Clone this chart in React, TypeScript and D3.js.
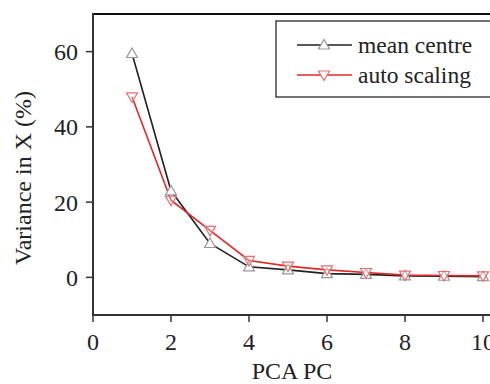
import React from "react";
import * as d3 from "d3";

const pcs = [1, 2, 3, 4, 5, 6, 7, 8, 9, 10];
const meanCentre = [59.5, 23, 9, 2.8, 2, 1, 0.8, 0.4, 0.3, 0.2];
const autoScaling = [48, 20.5, 12.5, 4.5, 3, 2, 1.3, 0.6, 0.5, 0.4];
const xTicks = [0, 2, 4, 6, 8, 10];
const yTicks = [0, 20, 40, 60];

const W = 490, H = 384;
const left = 93, top = 14, bottom = 315;

export default function App() {
  const x = d3.scaleLinear().domain([0, 10]).range([left, left + 390]);
  const y = d3.scaleLinear().domain([-10, 70]).range([bottom, top]);
  const line = d3.line<number>().x((_, i) => x(pcs[i])).y((d) => y(d));
  const font = "'Liberation Serif', 'Times New Roman', serif";
  const up = (cx: number, cy: number) => `M${cx},${cy - 5.5}L${cx + 5.5},${cy + 4}L${cx - 5.5},${cy + 4}Z`;
  const down = (cx: number, cy: number) => `M${cx},${cy + 5.5}L${cx + 5.5},${cy - 4}L${cx - 5.5},${cy - 4}Z`;
  return (
    <svg width={W} height={H} style={{ position: "absolute", left: 0, top: 0, background: "#fff" }}>
      <rect width={W} height={H} fill="#fff" />
      {/* frame */}
      <line x1={left} x2={W} y1={top} y2={top} stroke="#111" strokeWidth={2} />
      <line x1={left} x2={left} y1={top - 1} y2={bottom} stroke="#333" strokeWidth={2} />
      <line x1={left - 1} x2={W} y1={bottom} y2={bottom} stroke="#333" strokeWidth={2} />
      {yTicks.map((t) => (
        <g key={"y" + t}>
          <line x1={left - 7} x2={left} y1={y(t)} y2={y(t)} stroke="#333" strokeWidth={1.5} />
          <text x={78} y={y(t)} dy="0.35em" textAnchor="end" fontFamily={font} fontSize={24} fill="#222">{t}</text>
        </g>
      ))}
      {xTicks.map((t) => (
        <g key={"x" + t}>
          <line x1={x(t)} x2={x(t)} y1={bottom} y2={bottom + 7} stroke="#333" strokeWidth={1.5} />
          <text x={x(t)} y={350} textAnchor="middle" fontFamily={font} fontSize={24} fill="#222">{t}</text>
        </g>
      ))}
      <text x={292} y={379} textAnchor="middle" fontFamily={font} fontSize={24} fill="#222">PCA PC</text>
      <text transform={`translate(31,178) rotate(-90)`} textAnchor="middle" fontFamily={font} fontSize={24} fill="#222">Variance in X (%)</text>
      {/* series */}
      <path d={line(meanCentre) || ""} fill="none" stroke="#222" strokeWidth={1.6} />
      <path d={line(autoScaling) || ""} fill="none" stroke="#e02828" strokeWidth={1.6} />
      {meanCentre.map((v, i) => (
        <path key={"m" + i} d={up(x(pcs[i]), y(v))} fill="#fff" stroke="#999" strokeWidth={1.2} />
      ))}
      {autoScaling.map((v, i) => (
        <path key={"a" + i} d={down(x(pcs[i]), y(v))} fill="#fff" fillOpacity={0.3} stroke="#e87070" strokeWidth={1.2} />
      ))}
      {/* legend */}
      <rect x={276} y={21} width={230} height={76} fill="#fff" stroke="#444" strokeWidth={1.5} />
      <line x1={297} x2={352} y1={45} y2={45} stroke="#222" strokeWidth={1.6} />
      <path d={up(324, 45)} fill="#fff" stroke="#999" strokeWidth={1.2} />
      <text x={358} y={45} dy="0.32em" fontFamily={font} fontSize={23.5} fill="#222">mean centre</text>
      <line x1={297} x2={352} y1={75} y2={75} stroke="#e02828" strokeWidth={1.6} />
      <path d={down(324, 75)} fill="#fff" stroke="#e87070" strokeWidth={1.2} />
      <text x={358} y={75} dy="0.32em" fontFamily={font} fontSize={23.5} fill="#222">auto scaling</text>
    </svg>
  );
}
